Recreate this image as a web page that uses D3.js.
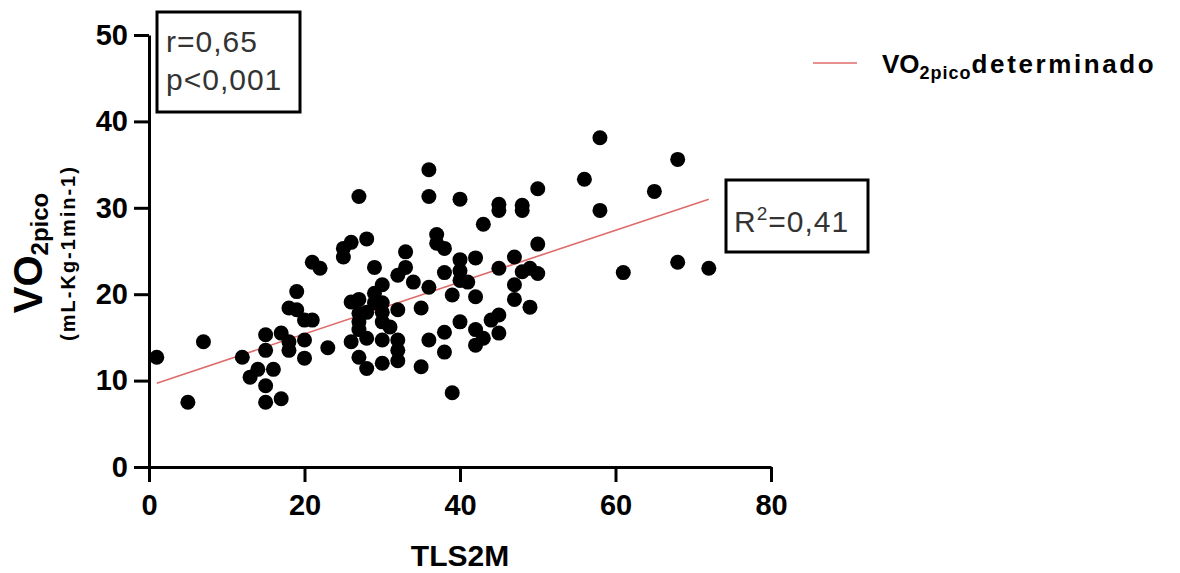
<!DOCTYPE html>
<html>
<head>
<meta charset="utf-8">
<script src="https://cdn.jsdelivr.net/npm/d3@7"></script>
<style>
  body { margin: 0; background: #fff; }
  svg { font-family: "Liberation Sans", Arial, sans-serif; }
</style>
</head>
<body>
<svg id="chart" width="1180" height="573"></svg>
<script>
// TLS2M (x) and VO2pico (y)
const tls2m = [
  1, 5, 7, 12, 13, 14, 16, 15, 15, 17, 15, 15, 17, 18, 18, 19, 18, 19, 20, 21, 20, 20, 21, 22, 23,
  36, 27, 36, 40, 45, 45, 43, 48, 48, 26, 25, 25, 28, 29, 33, 33, 32, 34, 37, 38, 37, 36, 38, 40,
  42, 40, 40, 41, 39, 42, 45, 47, 47, 47, 26, 27, 29, 30, 29, 30, 27, 28, 30, 30, 27, 27, 31, 32,
  35, 26, 28, 30, 32, 32, 32, 27, 28, 30, 35, 36, 38, 38, 40, 42, 42, 43, 44, 45, 45, 39,
  58, 68, 56, 65, 50, 58, 50, 48, 49, 50, 61, 68, 72, 49
];
const vo2pico = [
  12.7, 7.5, 14.5, 12.7, 10.4, 11.3, 11.3, 9.4, 7.5, 7.9, 15.3, 13.5, 15.5, 14.5, 13.5, 20.3, 18.4, 18.2, 17.0, 17.0, 14.7, 12.6, 23.7, 23.0, 13.8,
  34.4, 31.3, 31.3, 31.0, 30.4, 29.7, 28.1, 30.3, 29.7, 26.0, 25.3, 24.3, 26.4, 23.1, 24.9, 23.1, 22.2, 21.4, 26.9, 25.3, 25.9, 20.8, 22.5, 24.0,
  24.2, 21.6, 22.7, 21.4, 19.9, 19.7, 23.0, 24.3, 21.1, 19.4, 19.1, 19.4, 20.1, 21.1, 19.0, 19.0, 17.8, 17.9, 17.9, 16.8, 16.8, 15.9, 16.2, 18.2,
  18.4, 14.5, 14.9, 14.7, 14.7, 13.5, 12.3, 12.7, 11.4, 12.0, 11.6, 14.7, 15.6, 13.3, 16.8, 15.9, 14.1, 14.9, 17.0, 17.6, 15.5, 8.6,
  38.1, 35.6, 33.3, 31.9, 32.2, 29.7, 25.8, 22.6, 23.0, 22.4, 22.5, 23.7, 23.0, 18.5
];
const xTicks = [0, 20, 40, 60, 80];
const yTicks = [0, 10, 20, 30, 40, 50];
const fitLine = { intercept: 9.4, slope: 0.30, from: 1, to: 72 };
const statsText = ["r=0,65", "p<0,001"];

const svg = d3.select("#chart");
const x = d3.scaleLinear().domain([0, 80]).range([149, 771]);
const y = d3.scaleLinear().domain([0, 50]).range([467, 35]);

// axes
const xAxis = svg.append("g")
  .attr("transform", `translate(0,${y(0)})`)
  .call(d3.axisBottom(x).tickValues(xTicks).tickSize(15).tickSizeOuter(0).tickPadding(12));
const yAxis = svg.append("g")
  .attr("transform", `translate(${x(0)},0)`)
  .call(d3.axisLeft(y).tickValues(yTicks).tickSize(15).tickSizeOuter(0).tickPadding(6));

[xAxis, yAxis].forEach(g => {
  g.selectAll("path, line").attr("stroke", "#000").attr("stroke-width", 3);
  g.selectAll("text")
    .attr("fill", "#000")
    .style("font-size", "29px")
    .style("font-weight", "bold");
});

// regression line
svg.append("line")
  .attr("x1", x(fitLine.from))
  .attr("y1", y(fitLine.intercept + fitLine.slope * fitLine.from))
  .attr("x2", x(fitLine.to))
  .attr("y2", y(fitLine.intercept + fitLine.slope * fitLine.to))
  .attr("stroke", "#e06a6a")
  .attr("stroke-width", 1.6);

// points
svg.append("g").selectAll("circle")
  .data(tls2m.map((d, i) => [d, vo2pico[i]]))
  .join("circle")
  .attr("cx", d => x(d[0]))
  .attr("cy", d => y(d[1]))
  .attr("r", 7.5)
  .attr("fill", "#000");

// x title
svg.append("text")
  .attr("x", 460)
  .attr("y", 566)
  .attr("text-anchor", "middle")
  .style("font-size", "30px")
  .style("font-weight", "bold")
  .text("TLS2M");

// y title
const yt = svg.append("text")
  .attr("transform", "translate(42,253) rotate(-90)")
  .attr("text-anchor", "middle")
  .style("font-weight", "bold");
yt.append("tspan").style("font-size", "40px").text("VO");
yt.append("tspan").style("font-size", "24px").attr("dy", 6).text("2pico");

svg.append("text")
  .attr("transform", "translate(75,253) rotate(-90)")
  .attr("text-anchor", "middle")
  .style("font-size", "20px")
  .style("font-weight", "bold")
  .style("letter-spacing", "2px")
  .text("(mL-Kg-1min-1)");

// r / p box
svg.append("rect")
  .attr("x", 157).attr("y", 12).attr("width", 143).attr("height", 100)
  .attr("fill", "none").attr("stroke", "#000").attr("stroke-width", 3);
svg.selectAll(".stat")
  .data(statsText)
  .join("text")
  .attr("class", "stat")
  .attr("x", 166)
  .attr("y", (d, i) => 52 + i * 38)
  .attr("fill", "#333")
  .style("font-size", "30px")
  .style("letter-spacing", "1px")
  .text(d => d);

// R2 box
svg.append("rect")
  .attr("x", 726).attr("y", 180).attr("width", 142).attr("height", 72)
  .attr("fill", "none").attr("stroke", "#000").attr("stroke-width", 3);
const r2 = svg.append("text")
  .attr("x", 734).attr("y", 232)
  .attr("fill", "#333")
  .style("font-size", "30px")
  .style("letter-spacing", "1px");
r2.append("tspan").text("R");
r2.append("tspan").style("font-size", "19px").attr("dy", -12).text("2");
r2.append("tspan").attr("dy", 12).text("=0,41");

// legend
svg.append("line")
  .attr("x1", 813).attr("x2", 857).attr("y1", 63).attr("y2", 63)
  .attr("stroke", "#e06a6a").attr("stroke-width", 1.6);
const lg = svg.append("text")
  .attr("x", 882).attr("y", 73)
  .style("font-weight", "bold");
lg.append("tspan").style("font-size", "26px").text("VO");
lg.append("tspan").style("font-size", "18px").attr("dy", 6).style("letter-spacing", "1px").text("2pico");
lg.append("tspan").style("font-size", "26px").attr("dy", -6).style("letter-spacing", "2.6px").text("determinado");
</script>
</body>
</html>
